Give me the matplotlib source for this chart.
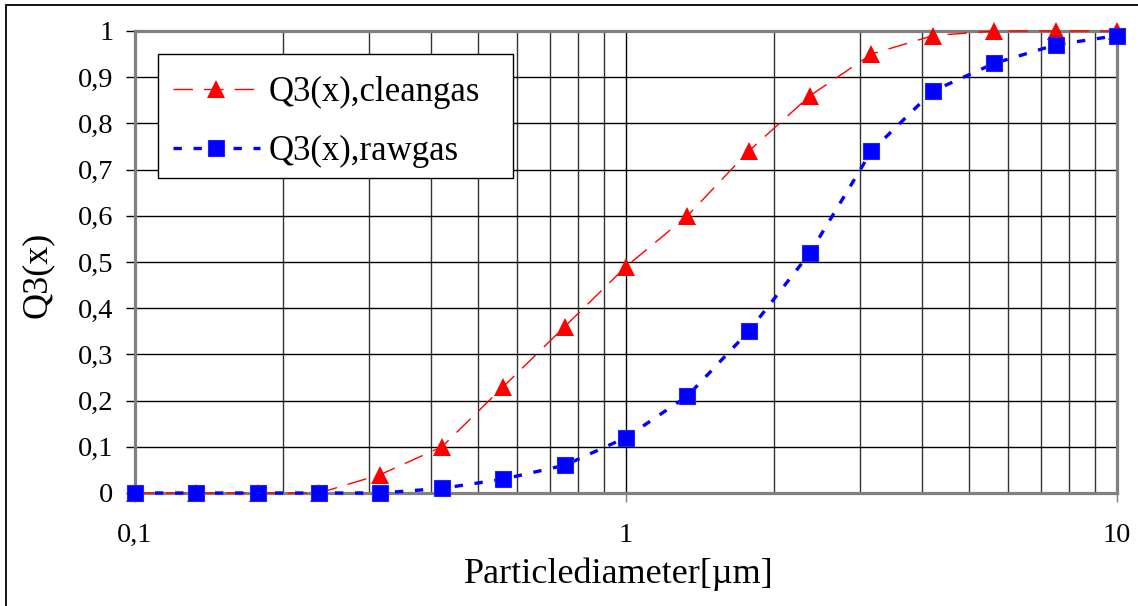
import matplotlib
matplotlib.use("Agg")
import matplotlib.pyplot as plt
from matplotlib.ticker import FixedLocator, FuncFormatter, LogLocator, NullFormatter
from matplotlib.patches import Rectangle

# ---- data ----
diameter = [0.1, 0.1334, 0.1778, 0.2371, 0.3162, 0.4217, 0.5623, 0.7499, 1.0,
            1.334, 1.778, 2.371, 3.162, 4.217, 5.623, 7.499, 10.0]
q3_cleangas = [0.0, 0.0, 0.0, 0.0, 0.04, 0.10, 0.23, 0.36, 0.49,
               0.60, 0.74, 0.86, 0.95, 0.99, 1.0, 1.0, 1.0]
q3_rawgas = [0.0, 0.0, 0.0, 0.0, 0.0, 0.01, 0.03, 0.06, 0.12,
             0.21, 0.35, 0.52, 0.74, 0.87, 0.93, 0.97, 0.99]
label_clean = "Q3(x),cleangas"
label_raw = "Q3(x),rawgas"
xlabel = "Particlediameter[µm]"
ylabel = "Q3(x)"
yticks = [0.0, 0.1, 0.2, 0.3, 0.4, 0.5, 0.6, 0.7, 0.8, 0.9, 1.0]
xticks = [0.1, 1, 10]

plt.rcParams['font.family'] = ['Liberation Serif', 'DejaVu Serif']

W, H = 1138, 606
fig = plt.figure(figsize=(W / 100, H / 100), dpi=100)
L, R, T, B = 135, 1117, 31, 493
ax = fig.add_axes([L / W, 1 - B / H, (R - L) / W, (B - T) / H])

ax.set_xscale('log')
ax.set_xlim(0.1, 10)
ax.set_ylim(0, 1)

ax.plot(diameter, q3_cleangas, color='#ff0000', lw=1.0,
        linestyle=(0, (14, 8)), marker='^', markersize=13.5,
        markeredgewidth=0, markerfacecolor='#ff0000',
        label=label_clean, clip_on=False, zorder=3)
ax.plot(diameter, q3_rawgas, color='#0000ff', lw=2.4,
        linestyle=(0, (2.5, 3.5)), marker='s', markersize=11.5,
        markeredgewidth=0.8, markeredgecolor='#2222ff', markerfacecolor='#0000ff',
        label=label_raw, clip_on=False, zorder=4)

# ticks
ax.yaxis.set_major_locator(FixedLocator(yticks))
def yfmt(v, pos):
    s = ('%.1f' % v)
    if s.endswith('.0'):
        s = s[:-2]
    return s.replace('.', ',')
ax.yaxis.set_major_formatter(FuncFormatter(yfmt))
ax.xaxis.set_major_locator(FixedLocator(xticks))
def xfmt(v, pos):
    s = ('%g' % v)
    return s.replace('.', ',')
ax.xaxis.set_major_formatter(FuncFormatter(xfmt))
ax.xaxis.set_minor_locator(LogLocator(base=10, subs=range(2, 10)))
ax.xaxis.set_minor_formatter(NullFormatter())

ax.tick_params(axis='y', which='major', direction='out', length=6.5, width=1,
               color='black', labelsize=20.5, pad=9)
ax.tick_params(axis='x', which='major', direction='out', length=6.5, width=1,
               color='#808080', labelsize=20.5, pad=15)
ax.tick_params(axis='x', which='minor', length=0)

ax.grid(True, which='major', axis='both', color='#000000', lw=1.0)
ax.grid(True, which='minor', axis='x', color='#333333', lw=1.0)
ax.set_axisbelow(True)

for sp in ax.spines.values():
    sp.set_color('#808080')
    sp.set_linewidth(2.3)
    sp.set_zorder(2.5)

ax.set_xlabel(xlabel, fontsize=26)
ax.set_ylabel(ylabel, fontsize=26)
ax.xaxis.set_label_coords(0.493, -0.140)
ax.yaxis.set_label_coords(-0.083, 0.472)

# legend frame drawn separately to match the reference box size
ax.add_patch(Rectangle(((158 - L) / (R - L), (B - 178) / (B - T)),
                       (513 - 158) / (R - L), (178 - 54) / (B - T),
                       transform=ax.transAxes, facecolor='white',
                       edgecolor='black', lw=1.0, zorder=5, clip_on=False))
leg = ax.legend(loc='upper left', bbox_to_anchor=((173 - L) / (R - L), (B - 76) / (B - T)),
                borderaxespad=0, fontsize=25, frameon=False,
                handlelength=2.5, handletextpad=0.25, labelspacing=0.74,
                borderpad=0, numpoints=1)
leg.set_zorder(6)

# figure border (top and left visible)
fig.patches.append(Rectangle((6 / W, -0.05), 1.2, (H - 5) / H + 0.05,
                             transform=fig.transFigure, fill=False,
                             edgecolor='black', lw=1.3))

fig.savefig('out.png', dpi=100)
